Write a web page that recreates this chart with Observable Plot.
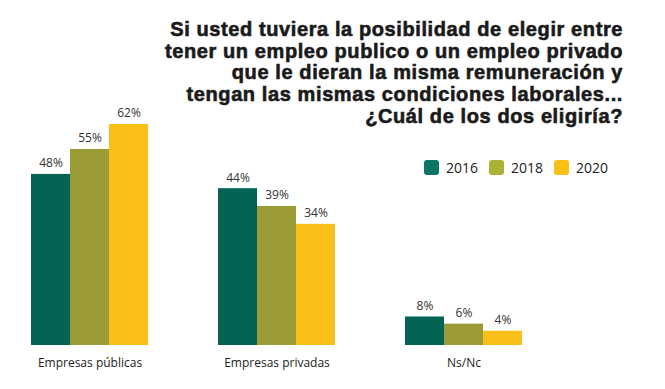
<!DOCTYPE html>
<html>
<head>
<meta charset="utf-8">
<script src="https://cdn.jsdelivr.net/npm/d3@7"></script>
<script src="https://cdn.jsdelivr.net/npm/@observablehq/plot@0.6"></script>
<style>
  html, body { margin: 0; padding: 0; background: #fff; }
  #wrap { position: relative; width: 665px; height: 389px; overflow: hidden; }
  #title {
    position: absolute; right: 42px; top: 19px;
    font-family: "Liberation Sans", Arial, sans-serif; font-weight: bold;
    font-size: 20px; line-height: 21.7px; letter-spacing: 0.6px;
    color: #1a1a1a; text-align: right; white-space: nowrap;
    -webkit-text-stroke: 0.6px #1a1a1a;
  }
  #legend { position: absolute; left: 424px; top: 158px; display: flex; align-items: center;
    font-family: "Open Sans", sans-serif; font-size: 14px; color: #222; }
  .item { display: flex; align-items: center; margin-right: 11px; }
  .sw { width: 15px; height: 15px; border-radius: 3px; margin-right: 7px; }
</style>
</head>
<body>
<div id="wrap">
  <div id="chart"></div>
  <div id="title"></div>
  <div id="legend"></div>
</div>
<script>
const titleLines = [
  "Si usted tuviera la posibilidad de elegir entre",
  "tener un empleo publico o un empleo privado",
  "que le dieran la misma remuneración y",
  "tengan las mismas condiciones laborales...",
  "¿Cuál de los dos eligiría?"
];
const categories = ["Empresas públicas", "Empresas privadas", "Ns/Nc"];
const years = ["2016", "2018", "2020"];
const v2016 = [48, 44, 8];
const v2018 = [55, 39, 6];
const v2020 = [62, 34, 4];
const barColors = ["#046454", "#9b9c37", "#f8c018"];
const legendColors = ["#0b7563", "#abb235", "#f9c013"];

const series = [v2016, v2018, v2020];
const data = [];
categories.forEach((c, i) => years.forEach((y, j) => data.push({category: c, year: y, value: series[j][i]})));

const plot = Plot.plot({
  width: 665, height: 389,
  marginLeft: 30, marginRight: 142, marginTop: 124, marginBottom: 44,
  style: {fontFamily: "'Open Sans', sans-serif", background: "transparent"},
  fx: {domain: categories, paddingInner: 0.364, paddingOuter: 0, axis: null, label: null},
  x: {domain: years, padding: 0, axis: null},
  y: {domain: [0, 62], axis: null},
  color: {domain: years, range: barColors},
  marks: [
    Plot.barY(data, {fx: "category", x: "year", y: "value", fill: "year"}),
    Plot.text(data, {fx: "category", x: "year", y: "value", text: d => d.value + "%",
      lineAnchor: "middle", dy: -11, fontSize: 12, fill: "#333"}),
    Plot.text(categories, {fx: d => d, text: d => d, frameAnchor: "bottom",
      lineAnchor: "middle", dy: 18, fontSize: 12, fill: "#222"})
  ]
});
document.getElementById("chart").appendChild(plot);

document.getElementById("title").innerHTML = titleLines.join("<br>");
const leg = document.getElementById("legend");
years.forEach((y, j) => {
  const it = document.createElement("div");
  it.className = "item";
  it.innerHTML = `<div class="sw" style="background:${legendColors[j]}"></div><span>${y}</span>`;
  leg.appendChild(it);
});
</script>
</body>
</html>
